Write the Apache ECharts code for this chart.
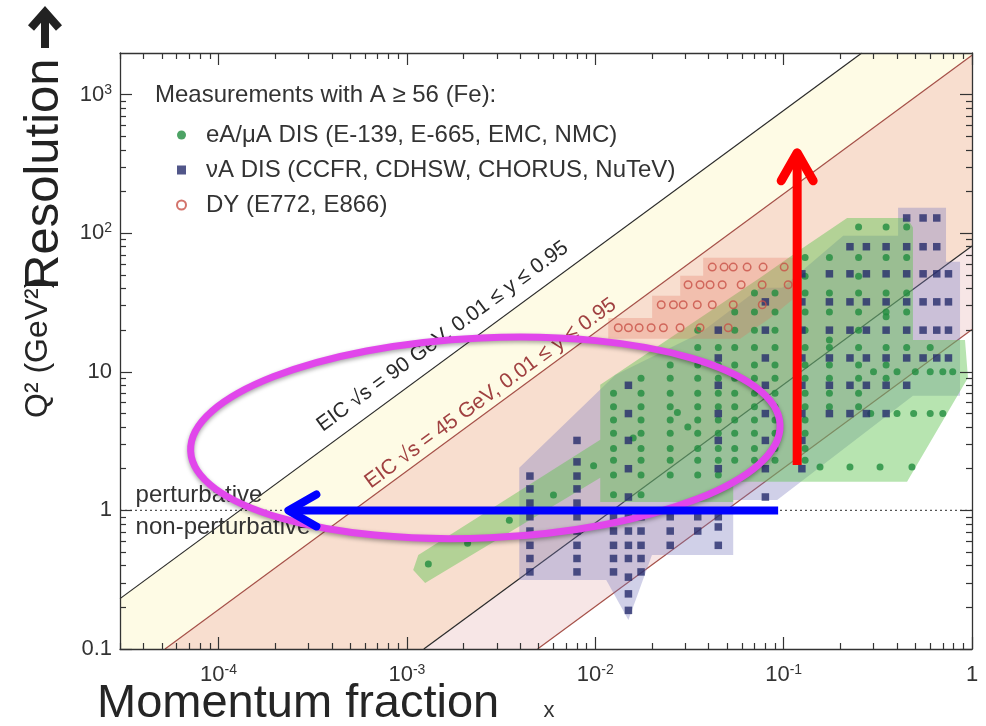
<!DOCTYPE html>
<html><head><meta charset="utf-8">
<script src="https://cdn.jsdelivr.net/npm/echarts@6/dist/echarts.min.js"></script>
<style>html,body{margin:0;padding:0;background:#fff}#c{width:986px;height:726px}</style>
</head><body><div id="c"></div>
<script>
const FONT = '"Liberation Sans", Arial, Helvetica, sans-serif';

// ---- axes ----
const X_MIN = 3e-5, X_MAX = 1, Y_MIN = 0.1, Y_MAX = 2000;
const xMajorTicks = [1e-4, 1e-3, 1e-2, 1e-1, 1];
const xTickLabels = ['10^-4', '10^-3', '10^-2', '10^-1', '1'];
const yMajorTicks = [0.1, 1, 10, 100, 1000];
const yTickLabels = ['0.1', '1', '10', '10^2', '10^3'];

// ---- EIC kinematic limits (end points) ----
const eic90Upper = [[3e-5, 0.231], [0.26, 2000]];
const eic45Upper = [[5.2e-5, 0.1], [1, 1924]];
const eic90Lower = [[1.23e-3, 0.1], [1, 81]];
const eic45Lower = [[4.94e-3, 0.1], [1, 20.25]];
const perturbLine = [[3e-5, 1], [1, 1]];

// ---- measured regions ----
const eARegion = [[1.15e-3,0.477],[0.01063,3.23],[0.01063,8.06],[0.075,47.7],[0.1224,76],[0.2173,129],[0.452,129],[0.486,110],[0.486,17],[0.918,17],[0.952,9.05],[0.452,1.61],[0.054,1.61],[0.054,1.15],[0.01063,1.15],[0.01063,1.72],[1.25e-3,0.30],[1.08e-3,0.372]];
const nuRegion = [[3.95e-3,2.03],[0.01277,9.51],[0.0361,19.1],[0.075,40.4],[0.0982,40.4],[0.207,95.9],[0.405,95.9],[0.405,153],[0.728,153],[0.728,62.3],[0.864,62.3],[0.864,6.71],[0.486,6.71],[0.0924,1.19],[0.054,1.19],[0.054,0.477],[0.02,0.477],[0.015,0.162],[0.01144,0.315],[3.95e-3,0.315]];
const dyRegion = [[0.01172,17.3],[0.01172,24.5],[0.02005,24.5],[0.02005,35.4],[0.02825,35.4],[0.02825,49.4],[0.0374,49.4],[0.0374,66.6],[0.118,66.6],[0.118,35.4],[0.0848,24.5],[0.0588,17.3]];

// ---- eA/muA DIS points: [x, [Q2 ...]] ----
const eAColumns = [
  [0.0125, [7,5.6,4.5,3.6,2.8,2.3,1.8,1.3]],
  [0.0175, [9,7,5.6,4.5,3.6,2.8,2.3,1.8,1.3]],
  [0.025, [11.2,9,7,5.6,4.5,3.6,2.8,2.3,1.8]],
  [0.035, [20,15,11.2,9,7,5.6,4.5,3.6,2.8,2.3,1.8]],
  [0.045, [15,11.2,9,7,5.6,4.5,3.6,2.8,2.3,1.8]],
  [0.055, [27,20,15,11.2,9,7,5.6,4.5,3.6,2.8,2.3]],
  [0.07, [37,27,20,15,11.2,9,7,5.6,4.5,3.6,2.8,2.3]],
  [0.09, [37,27,20,15,11.2,9,7,5.6,4.5,3.6,2.8,2.3]],
  [0.13, [67,49,37,27,20,15,11.2,9,7,5.6,4.5,3.6,2.8,2.3]],
  [0.175, [67,37,27,17,15,11.2,9,7,5.6]],
  [0.25, [111,67,49,37,27,20,15,11.2,9,7,5.6]],
  [0.35, [111,67,37,27,25,15,11.2,9]],
  [0.45, [111,67,37,27,15]],
  [0.6, [15]]
];
const eAExtra = [[0.30,10],[0.40,10],[0.50,10],[0.60,10],[0.70,10],[0.79,10],
  [0.29,5],[0.40,5],[0.49,5],[0.60,5],[0.70,5],
  [0.156,2.06],[0.225,2.06],[0.325,2.06],[0.48,2.06],
  [0.031,4.0],[0.0273,5.1],[0.0159,3.33],
  [1.3e-3,0.41],[2.1e-3,0.58],[3.5e-3,0.85],[6.0e-3,1.29],[9.8e-3,2.1]];

// ---- nuA DIS points ----
const nuColumns = [
  [0.0045, [1.77,1.43,1.13,0.9,0.71,0.56,0.45,0.36]],
  [0.008, [3.2,2.24,1.77,1.43,1.13,0.9,0.71,0.56,0.45,0.36]],
  [0.0125, [0.9,0.71,0.56,0.45,0.36]],
  [0.015, [8,5,3.2,2,1.25,0.9,0.71,0.56,0.45,0.33,0.25,0.19]],
  [0.0175, [0.9,0.71,0.56,0.45,0.36]],
  [0.025, [0.9,0.71,0.56]],
  [0.035, [0.9,0.71]],
  [0.045, [20,12.6,8,5,3.2,2,0.9,0.76,0.56]],
  [0.08, [32,20,12.6,8,5,3.2,2,1.25]],
  [0.125, [51,32,20,12.6,8,5,3.2,2]],
  [0.175, [51,32,20,12.6,8,5]],
  [0.225, [80,51,32,20,12.6,8,5]],
  [0.275, [80,51,32,20,12.6,8,5]],
  [0.35, [80,51,32,20,12.6,8,5]],
  [0.45, [129,80,51,32,20,12.6,8]],
  [0.55, [129,80,51,32,20,12.6]],
  [0.65, [129,80,51,32,20,12.6]],
  [0.75, [51,32,20,12.6]]
];

// ---- DY points: [Q2, [x ...]] ----
const dyRows = [
  [57, [0.0418,0.0483,0.054,0.064,0.0778,0.1007]],
  [42.5, [0.0311,0.036,0.0407,0.0472,0.0595,0.0769,0.1057]],
  [30.5, [0.0224,0.026,0.0293,0.0348,0.0418,0.054,0.077]],
  [20.8, [0.01325,0.015,0.0171,0.0198,0.023,0.0282,0.036,0.0508]]
];

// ---- names / annotation anchors (data coords) ----
const seriesNames = ['eA/\u03bcA DIS (E-139, E-665, EMC, NMC)', '\u03bdA DIS (CCFR, CDHSW, CHORUS, NuTeV)', 'DY (E772, E866)'];
const legendTitle = 'Measurements with A \u2265 56 (Fe):';
const label90 = 'EIC \u221as = 90 GeV, 0.01 \u2264 y \u2264 0.95';
const label45 = 'EIC \u221as = 45 GeV, 0.01 \u2264 y \u2264 0.95';
const label90Anchor = [1.79e-3, 13.77];
const label45Anchor = [3.06e-3, 5.88];
const perturbAnchor = [3.63e-5, 1];
const ellipseCenter = [2.61e-3, 3.34];
const blueArrow = [[0.0935, 1], [2.35e-4, 1]];
const redArrow = [[0.118, 2.13], [0.118, 381]];

// ---------------------------------------------------------------
function colsToPoints(cols) { const o = []; cols.forEach(c => c[1].forEach(q => o.push([c[0], q]))); return o; }
function rowsToPoints(rows) { const o = []; rows.forEach(r => r[1].forEach(x => o.push([x, r[0]]))); return o; }
function minorTicks(decades, lo, hi) {
  const o = []; decades.forEach(d => { for (let m = 2; m <= 9; m++) { const v = d * m; if (v > lo && v < hi) o.push(v); } }); return o;
}
const xMinor = minorTicks([1e-5, 1e-4, 1e-3, 1e-2, 1e-1], X_MIN, X_MAX);
const yMinor = minorTicks([0.1, 1, 10, 100, 1000], Y_MIN, Y_MAX);

function supLabel(str) {
  const i = str.indexOf('^');
  return i < 0 ? '{b|' + str + '}' : '{b|' + str.slice(0, i) + '}{s|' + str.slice(i + 1) + '}';
}
function labelFormatter(ticks, labels) {
  return function (v) {
    let best = 0, bd = Infinity;
    ticks.forEach((t, i) => { const d = Math.abs(Math.log10(t) - Math.log10(v)); if (d < bd) { bd = d; best = i; } });
    return supLabel(labels[best]);
  };
}
const rich = {
  b: { fontSize: 22, lineHeight: 24, color: '#333', fontFamily: FONT },
  s: { fontSize: 14, lineHeight: 14, color: '#333', fontFamily: FONT, verticalAlign: 'top' }
};
const AX = '#333';
function axis(kind, position, major, values, labels) {
  const isX = kind === 'x';
  const a = {
    type: 'log', logBase: 10, position, z: 10,
    min: isX ? X_MIN : Y_MIN, max: isX ? X_MAX : Y_MAX,
    splitLine: { show: false }, minorTick: { show: false },
    axisLine: { show: major, onZero: false, lineStyle: { color: AX, width: 1.3 } },
    axisTick: { show: true, inside: true, length: major ? 12 : 6, customValues: values, lineStyle: { color: AX, width: 1.2 } },
    axisLabel: { show: false }
  };
  if (labels) {
    a.axisLabel = { show: true, customValues: values, formatter: labelFormatter(values, labels), rich: rich, margin: isX ? 14 : 8, hideOverlap: false };
  }
  return a;
}

function region(name, pts, fill, z) {
  return {
    type: 'custom', name, coordinateSystem: 'cartesian2d', xAxisIndex: 0, yAxisIndex: 0,
    silent: true, z, clip: true, data: [pts[0]],
    renderItem: function (params, api) {
      return { type: 'polygon', shape: { points: pts.map(p => api.coord(p)) }, style: { fill: fill } };
    }
  };
}
function lineSeries(pts, color, type, z) {
  return { type: 'line', data: pts, symbol: 'none', silent: true, z, xAxisIndex: 0, yAxisIndex: 0,
    lineStyle: { color, width: 1.2, type: type || 'solid' } };
}

const chart = echarts.init(document.getElementById('c'), null, { renderer: 'canvas' });
const option = {
  animation: false,
  backgroundColor: '#fff',
  textStyle: { fontFamily: FONT },
  grid: { left: 120, right: 14, top: 53, bottom: 77, containLabel: false, outerBoundsMode: 'none' },
  xAxis: [
    axis('x', 'bottom', true, xMajorTicks, xTickLabels),
    axis('x', 'bottom', false, xMinor, null),
    axis('x', 'top', true, xMajorTicks, null),
    axis('x', 'top', false, xMinor, null)
  ],
  yAxis: [
    axis('y', 'left', true, yMajorTicks, yTickLabels),
    axis('y', 'left', false, yMinor, null),
    axis('y', 'right', true, yMajorTicks, null),
    axis('y', 'right', false, yMinor, null)
  ],
  legend: {
    data: seriesNames, orient: 'vertical', left: 171, top: 118,
    itemWidth: 9, itemHeight: 9, itemGap: 11, selectedMode: false,
    textStyle: { fontSize: 24, lineHeight: 24, color: '#333', fontFamily: FONT, padding: [0, 0, 0, 15] }
  },
  series: [
    region('band90', [eic90Upper[0], eic90Upper[1], [X_MAX, Y_MAX], eic45Upper[1], eic45Upper[0], [X_MIN, Y_MIN]], 'rgb(254,251,229)', 1),
    region('bandBoth', [eic45Upper[0], eic45Upper[1], eic90Lower[1], eic90Lower[0]], 'rgb(248,222,207)', 1),
    region('band45', [eic90Lower[0], eic90Lower[1], eic45Lower[1], eic45Lower[0]], 'rgb(247,230,230)', 1),
    lineSeries(eic90Upper, '#2a2a2a', null, 2),
    lineSeries(eic90Lower, '#2a2a2a', null, 2),
    lineSeries(eic45Upper, 'rgb(165,80,72)', null, 2),
    lineSeries(eic45Lower, 'rgb(165,80,72)', null, 2),
    lineSeries(perturbLine, '#555', [2, 3], 2),
    region('nuRegion', nuRegion, 'rgba(120,120,190,0.35)', 3),
    region('eARegion', eARegion, 'rgba(95,195,80,0.45)', 3),
    region('dyRegion', dyRegion, 'rgba(225,110,90,0.28)', 3),
    { type: 'scatter', name: seriesNames[0], data: colsToPoints(eAColumns).concat(eAExtra), symbol: 'circle', symbolSize: 7,
      itemStyle: { color: 'rgb(32,140,62)' }, z: 5, silent: true },
    { type: 'scatter', name: seriesNames[1], data: colsToPoints(nuColumns), symbol: 'rect', symbolSize: 7.5,
      itemStyle: { color: 'rgb(38,44,108)' }, z: 5, silent: true },
    { type: 'scatter', name: seriesNames[2], data: rowsToPoints(dyRows), symbol: 'circle', symbolSize: 7.5,
      itemStyle: { color: 'rgba(0,0,0,0)', borderColor: 'rgb(200,80,70)', borderWidth: 1.5 }, z: 5, silent: true }
  ]
};
chart.setOption(option);

// ---- annotations and texts ----
const P = p => chart.convertToPixel({ xAxisIndex: 0, yAxisIndex: 0 }, p);
function txt(x, y, text, size, fill, rot, align, extra) {
  return Object.assign({ type: 'text', x, y, rotation: rot || 0, z: 50, silent: true,
    style: { text, fontSize: size, fontFamily: FONT, fill, align: align || 'left', verticalAlign: 'middle',
      textAlign: align || 'left', textVerticalAlign: 'middle' } }, extra || {});
}
function lineLabel(line, anchor, text, color, offset) {
  const a = P(line[0]), b = P(line[1]);
  const dx = b[0] - a[0], dy = b[1] - a[1], L = Math.hypot(dx, dy);
  const n = [dy / L, -dx / L];
  const c = P(anchor);
  return txt(c[0] + n[0] * offset, c[1] + n[1] * offset, text, 21, color, Math.atan2(-dy, dx), 'center');
}
const pa = P(perturbAnchor);
const ec = P(ellipseCenter);
const ba = P(blueArrow[0]), bt = P(blueArrow[1]);
const ra = P(redArrow[0]), rt = P(redArrow[1]);
const graphics = [
  lineLabel(eic90Upper, label90Anchor, label90, '#2a2a2a', 20),
  lineLabel(eic45Upper, label45Anchor, label45, 'rgb(160,65,65)', 13),
  txt(pa[0], pa[1] - 15, 'perturbative', 24, '#333'),
  txt(pa[0], pa[1] + 17, 'non-perturbative', 24, '#333'),
  txt(155, 95, legendTitle, 24, '#333'),
  // titles
  txt(38, 418, 'Q\u00b2 (GeV\u00b2)', 32, '#252525', Math.PI / 2),
  txt(44, 290, 'Resolution', 49, '#222', Math.PI / 2),
  { type: 'polyline', z: 50, silent: true, shape: { points: [[45, 48], [45, 13]] }, style: { stroke: '#222', lineWidth: 8, fill: null } },
  { type: 'polyline', z: 50, silent: true, shape: { points: [[31, 28], [45, 12], [59, 28]] }, style: { stroke: '#222', lineWidth: 8, fill: null, lineJoin: 'miter' } },
  txt(97, 704, 'Momentum fraction', 47, '#252525'),
  txt(549, 711, 'x', 22, '#333', 0, 'center'),
  // ellipse
  { type: 'ellipse', x: ec[0], y: ec[1], rotation: 0.045, z: 60, silent: true,
    shape: { cx: 0, cy: 0, rx: 295, ry: 100 },
    style: { fill: 'rgba(0,0,0,0)', stroke: 'rgb(225,70,235)', lineWidth: 7, shadowBlur: 4, shadowColor: 'rgba(0,0,0,0.35)', shadowOffsetY: 2 } },
  // blue arrow
  { type: 'polyline', z: 61, silent: true, shape: { points: [ba, bt] }, style: { stroke: '#0000ff', lineWidth: 8, fill: null } },
  { type: 'polyline', z: 61, silent: true, shape: { points: [[bt[0] + 28, bt[1] - 16], bt, [bt[0] + 28, bt[1] + 16]] }, style: { stroke: '#0000ff', lineWidth: 8, fill: null, lineCap: 'round', lineJoin: 'round' } },
  // red arrow
  { type: 'polyline', z: 61, silent: true, shape: { points: [ra, rt] }, style: { stroke: '#ff0000', lineWidth: 9, fill: null } },
  { type: 'polyline', z: 61, silent: true, shape: { points: [[rt[0] - 16, rt[1] + 28], rt, [rt[0] + 16, rt[1] + 28]] }, style: { stroke: '#ff0000', lineWidth: 9, fill: null, lineCap: 'round', lineJoin: 'round' } }
];
chart.setOption({ graphic: graphics });
</script>
</body></html>
